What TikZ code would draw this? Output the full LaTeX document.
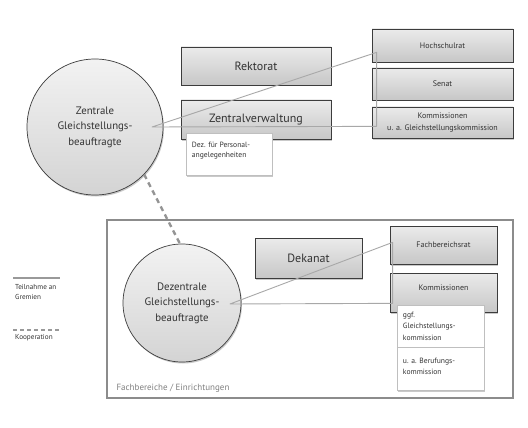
\documentclass[tikz,border=0pt]{standalone}
\usepackage{fontspec}
\setmainfont{PT Sans}
\usetikzlibrary{shadows,calc}
\definecolor{txt}{HTML}{333333}
\definecolor{edge}{HTML}{3C3C3C}
\definecolor{conn}{HTML}{A8A8A8}
\tikzset{
  shd/.style={drop shadow={opacity=0.35,shadow xshift=1pt,shadow yshift=-1.5pt,fill=black!60}},
  graybox/.style={draw=edge,line width=0.7pt,top color=white!92!black,bottom color=black!22,
    shd,inner sep=0pt,text=txt,align=center},
  whitebox/.style={draw=black!25,line width=0.5pt,fill=white,shd,inner sep=0pt,text=txt,
    font=\fontsize{7.6}{10}\selectfont},
  bigbox/.style={graybox,font=\fontsize{12}{14}\selectfont},
  smallbox/.style={graybox,font=\fontsize{8}{12}\selectfont},
  gleich/.style={circle,draw=edge,line width=0.7pt,top color=black!5,bottom color=black!17,
    shd,inner sep=0pt,text=txt,align=center,font=\fontsize{10.8}{15.5}\selectfont},
  conline/.style={draw=conn,line width=0.9pt,line join=round},
  coop/.style={draw=black!42,line width=2.4pt,dash pattern=on 5pt off 4pt},
  legtext/.style={text=txt,font=\fontsize{7.2}{10}\selectfont,align=left,anchor=north west,inner sep=0pt},
}
\begin{document}
\begin{tikzpicture}[x=1pt,y=-1pt]
\useasboundingbox (0,0) rectangle (528,428);
\fill[white] (0,0) rectangle (528,428);

% Fachbereiche frame
\node[draw=black!45,line width=1.3pt,fill=white,minimum width=406pt,minimum height=178pt,
  drop shadow={opacity=0.2,shadow xshift=1pt,shadow yshift=-1pt}] (fb) at (310,309) {};
\node[anchor=south west,inner sep=0pt,text=black!50,font=\fontsize{9}{11}\selectfont] (fbl)
  at ($(fb.south west)+(10,-6)$) {Fachbereiche / Einrichtungen};

% upper boxes
\node[bigbox,minimum width=150pt,minimum height=38pt] (rek) at (256,66) {Rektorat};
\node[bigbox,minimum width=150pt,minimum height=39pt] (zv) at (256,119.5) {Zentralverwaltung};
\node[whitebox,minimum width=86pt,minimum height=42pt] (dez) at (229,154) {};
\node[legtext,font=\fontsize{7.6}{10.5}\selectfont] (dezt) at ($(dez.north west)+(6,9)$) {Dez. für Personal-\\angelegenheiten};

\node[smallbox,minimum width=141pt,minimum height=33pt] (hr) at (442.5,45.5) {Hochschulrat};
\node[smallbox,minimum width=141pt,minimum height=32pt] (sen) at (442.5,84) {Senat};
\node[smallbox,minimum width=141pt,minimum height=31pt,font=\fontsize{8}{11.5}\selectfont] (kom) at (442.5,122.5) {Kommissionen\\u. a. Gleichstellungskommission};

% lower boxes
\node[bigbox,minimum width=107pt,minimum height=40pt] (dek) at (308.5,258) {Dekanat};
\node[smallbox,minimum width=107pt,minimum height=38pt] (fbr) at (443.5,245) {Fachbereichsrat};
\node[smallbox,minimum width=107pt,minimum height=39pt] (kb) at (443.5,292.5) {};
\node[text=txt,font=\fontsize{8}{12}\selectfont,inner sep=0pt] (kbt) at ($(kb.center)+(0,-5)$) {Kommissionen};
\node[whitebox,minimum width=87pt,minimum height=42pt] (ggf) at (440.5,326) {};
\node[legtext,font=\fontsize{7.6}{11.5}\selectfont] (ggft) at ($(ggf.north west)+(6,7)$) {ggf.\\Gleichstellungs-\\kommission};
\node[whitebox,minimum width=87pt,minimum height=43pt] (ber) at (440.5,368.5) {};
\node[legtext,font=\fontsize{7.6}{11.5}\selectfont] (bert) at ($(ber.north west)+(6,11)$) {u. a. Berufungs-\\kommission};

% circles
\node[gleich,minimum size=136pt] (zc) at (95,127) {Zentrale\\Gleichstellungs-\\beauftragte};
\node[gleich,minimum size=118pt] (dc) at (182,303) {Dezentrale\\Gleichstellungs-\\beauftragte};

% connectors
\coordinate (zs) at ($(zc.center)+(57,0)$);
\coordinate (zt) at ($(hr.south west)+(5,-10)$);
\coordinate (zb) at ($(kom.south west)+(5,-12)$);
\draw[conline] (zs) -- (zt) -- (zb) -- cycle;

\coordinate (ds) at ($(dc.center)+(48,1)$);
\coordinate (dt) at ($(fbr.south west)+(3,-22)$);
\coordinate (db) at ($(kb.south west)+(3,-9)$);
\draw[conline] (ds) -- (dt) -- (db) -- cycle;

\draw[coop] (zc.-44) -- (dc.92);

% legend
\coordinate (l1a) at (13,278); \coordinate (l1b) at (60,278);
\draw[draw=black!40,line width=1.6pt] (l1a) -- (l1b);
\node[legtext] (l1t) at (15,284) {Teilnahme an\\Gremien};
\coordinate (l2a) at (13,330); \coordinate (l2b) at (60,330);
\draw[draw=black!40,line width=1.6pt,dash pattern=on 4pt off 3pt] (l2a) -- (l2b);
\node[legtext] (l2t) at (15,334) {Kooperation};
\end{tikzpicture}
\end{document}
